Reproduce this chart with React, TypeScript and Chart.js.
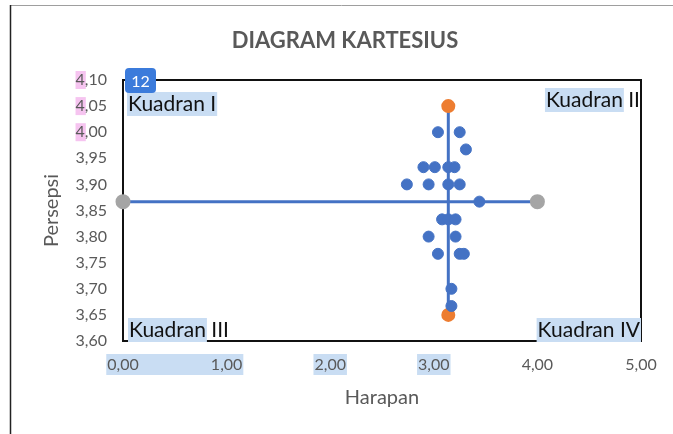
import React, { useEffect, useRef } from 'react';
import { Chart, registerables } from 'chart.js';

Chart.register(...registerables);

// ---- data ----
const harapan = [3.04, 3.25, 3.31, 2.90, 3.01, 3.14, 3.20, 2.74, 2.95, 3.14, 3.25, 3.44, 3.08, 3.14, 3.21, 2.95, 3.21, 3.04, 3.25, 3.29, 3.17, 3.17];
const persepsi = [4.00, 4.00, 3.967, 3.933, 3.933, 3.933, 3.933, 3.90, 3.90, 3.90, 3.90, 3.867, 3.833, 3.833, 3.833, 3.80, 3.80, 3.767, 3.767, 3.767, 3.70, 3.667];

const meanHarapan = 3.14;
const verticalLineY = [3.65, 4.05];
const meanPersepsi = 3.867;
const horizontalLineX = [0, 4.0];

const quadrantLabels = ['Kuadran I', 'Kuadran II', 'Kuadran III', 'Kuadran IV'];
const title = 'DIAGRAM KARTESIUS';
const xTitle = 'Harapan';
const yTitle = 'Persepsi';
const badgeText = '12';

const FONT = 'Lato, "Open Sans", sans-serif';
const BLUE = '#4472C4';
const ORANGE = '#ED7D31';
const GREY = '#A5A5A5';
const TEXT = '#595959';
const HL_BLUE = '#C9DDF3';
const HL_PINK = '#F6C4F0';

const fmt = (v: number) => v.toFixed(2).replace('.', ',');

const decorPlugin = {
  id: 'decor',
  beforeDraw(chart: any) {
    const { ctx, chartArea, scales } = chart;
    ctx.save();
    // outer border
    ctx.strokeStyle = '#9E9E9E';
    ctx.lineWidth = 1;
    ctx.beginPath();
    ctx.moveTo(10, 5.5);
    ctx.lineTo(673, 5.5);
    ctx.stroke();
    ctx.strokeStyle = '#222';
    ctx.lineWidth = 1.5;
    ctx.beginPath();
    ctx.moveTo(10.5, 5);
    ctx.lineTo(10.5, 434);
    ctx.stroke();

    // title
    ctx.fillStyle = TEXT;
    ctx.font = `bold 22px ${FONT}`;
    ctx.textAlign = 'center';
    ctx.textBaseline = 'middle';
    ctx.fillText(title, 345, 41);

    // tick highlights
    ctx.font = `16px ${FONT}`;
    const xs = scales.x;
    const ys = scales.y;
    const tickY = 364;
    const w0 = ctx.measureText(fmt(0)).width;
    const x0 = xs.getPixelForValue(0) - w0 / 2;
    const x1 = xs.getPixelForValue(1) + ctx.measureText(fmt(1)).width / 2;
    ctx.fillStyle = HL_BLUE;
    ctx.fillRect(x0 - 1, tickY - 10, x1 - x0 + 2, 21);
    [2, 3].forEach((v) => {
      const w = ctx.measureText(fmt(v)).width;
      const c = xs.getPixelForValue(v);
      ctx.fillRect(c - w / 2 - 1, tickY - 10, w + 2, 21);
    });
    // pink highlights on "4"
    ctx.fillStyle = HL_PINK;
    const rightEdge = chartArea.left - 16;
    [4.1, 4.05, 4.0].forEach((v) => {
      const w = ctx.measureText(fmt(v)).width;
      const w4 = ctx.measureText('4').width;
      const cy = ys.getPixelForValue(v);
      ctx.fillRect(rightEdge - w, cy - 9, w4 + 1, 18);
    });
    ctx.restore();
  },
  beforeDatasetsDraw(chart: any) {
    const { ctx, chartArea } = chart;
    ctx.save();
    ctx.strokeStyle = '#111';
    ctx.lineWidth = 2;
    ctx.strokeRect(chartArea.left, chartArea.top, chartArea.right - chartArea.left, chartArea.bottom - chartArea.top);
    ctx.restore();
  },
  afterDraw(chart: any) {
    const { ctx, chartArea } = chart;
    const { left, right, top, bottom } = chartArea;
    ctx.save();
    ctx.font = `21px ${FONT}`;
    ctx.textBaseline = 'middle';
    const drawLabel = (text: string, hlText: string, x: number, y: number, align: 'left' | 'right') => {
      const w = ctx.measureText(text).width;
      const hw = ctx.measureText(hlText).width;
      const sx = align === 'left' ? x : x - w;
      ctx.fillStyle = HL_BLUE;
      ctx.fillRect(sx - 1, y - 12, hw + 2, 24);
      ctx.fillStyle = '#111';
      ctx.textAlign = 'left';
      ctx.fillText(text, sx, y);
    };
    drawLabel(quadrantLabels[0], quadrantLabels[0], left + 5, top + 24, 'left');
    drawLabel(quadrantLabels[1], 'Kuadran', right - 1, top + 20, 'right');
    drawLabel(quadrantLabels[2], 'Kuadran', left + 6, bottom - 11, 'left');
    drawLabel(quadrantLabels[3], quadrantLabels[3], right - 1, bottom - 11, 'right');

    // badge
    ctx.fillStyle = '#3B7BDB';
    const bx = left + 2, by = top - 12, bw = 31, bh = 25, r = 4;
    ctx.beginPath();
    ctx.moveTo(bx + r, by);
    ctx.lineTo(bx + bw - r, by);
    ctx.quadraticCurveTo(bx + bw, by, bx + bw, by + r);
    ctx.lineTo(bx + bw, by + bh - r);
    ctx.quadraticCurveTo(bx + bw, by + bh, bx + bw - r, by + bh);
    ctx.lineTo(bx + r, by + bh);
    ctx.quadraticCurveTo(bx, by + bh, bx, by + bh - r);
    ctx.lineTo(bx, by + r);
    ctx.quadraticCurveTo(bx, by, bx + r, by);
    ctx.fill();
    ctx.fillStyle = '#fff';
    ctx.font = `16px ${FONT}`;
    ctx.textAlign = 'center';
    ctx.fillText(badgeText, bx + bw / 2, by + bh / 2 + 1);
    ctx.restore();
  },
};

export default function App() {
  const ref = useRef<HTMLCanvasElement | null>(null);
  useEffect(() => {
    if (!ref.current) return;
    const points = harapan.map((x, i) => ({ x, y: persepsi[i] }));
    const chart = new Chart(ref.current, {
      type: 'scatter',
      data: {
        datasets: [
          {
            data: points,
            backgroundColor: BLUE,
            borderColor: BLUE,
            pointRadius: 5.5,
            pointHoverRadius: 5.5,
            showLine: false,
            clip: false,
          },
          {
            data: verticalLineY.map((y) => ({ x: meanHarapan, y })),
            showLine: true,
            borderColor: BLUE,
            borderWidth: 3,
            backgroundColor: ORANGE,
            pointBackgroundColor: ORANGE,
            pointBorderColor: ORANGE,
            pointRadius: 5.5,
            clip: false,
          },
          {
            data: horizontalLineX.map((x) => ({ x, y: meanPersepsi })),
            showLine: true,
            borderColor: BLUE,
            borderWidth: 3,
            backgroundColor: GREY,
            pointBackgroundColor: GREY,
            pointBorderColor: GREY,
            pointRadius: 6,
            clip: false,
          },
        ],
      },
      options: {
        responsive: false,
        animation: false,
        devicePixelRatio: 1,
        layout: { padding: { left: 0, top: 80, right: 32, bottom: 0 } },
        plugins: { legend: { display: false }, tooltip: { enabled: false }, title: { display: false } },
        scales: {
          x: {
            type: 'linear',
            min: 0,
            max: 5,
            ticks: { stepSize: 1, color: TEXT, font: { family: FONT, size: 16 }, padding: 14, callback: (v: any) => fmt(Number(v)) },
            grid: { display: false, drawTicks: false },
            border: { display: false },
            title: { display: true, text: xTitle, color: TEXT, font: { family: FONT, size: 20 }, padding: { top: 0, bottom: 24 } },
            afterFit: (s: any) => { s.height = 93; },
          },
          y: {
            type: 'linear',
            min: 3.6,
            max: 4.1,
            ticks: { stepSize: 0.05, color: TEXT, font: { family: FONT, size: 16 }, padding: 16, callback: (v: any) => fmt(Number(v)) },
            grid: { display: false, drawTicks: false },
            border: { display: false },
            title: { display: true, text: yTitle, color: TEXT, font: { family: FONT, size: 20 }, padding: { top: 40, bottom: 0 } },
            afterFit: (s: any) => { s.width = 123; },
          },
        },
      },
      plugins: [decorPlugin],
    });
    return () => chart.destroy();
  }, []);
  return (
    <div style={{ position: 'fixed', left: 0, top: 0, width: 673, height: 434, background: '#fff' }}>
      <canvas ref={ref} width={673} height={434} />
    </div>
  );
}
